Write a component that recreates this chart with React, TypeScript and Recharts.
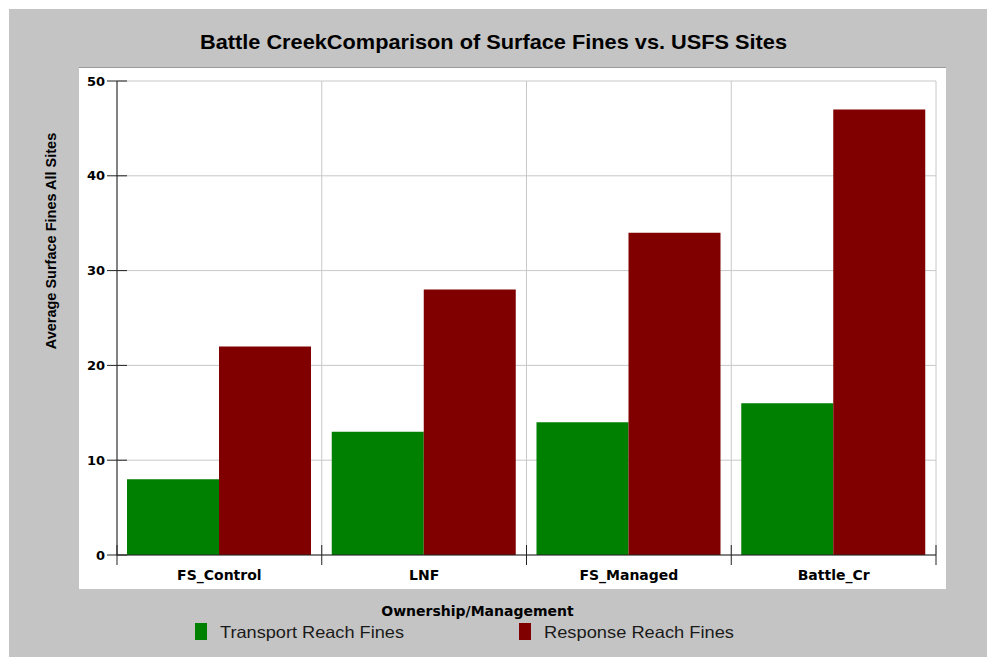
import { BarChart, Bar, XAxis, YAxis, CartesianGrid, Legend } from 'recharts';

const sites = ['FS_Control', 'LNF', 'FS_Managed', 'Battle_Cr'];
const transportFines = [8, 13, 14, 16];
const responseFines = [22, 28, 34, 47];
const yTicks = [0, 10, 20, 30, 40, 50];

const series = [
  { key: 'transport', name: 'Transport Reach Fines', color: '#008000' },
  { key: 'response', name: 'Response Reach Fines', color: '#800000' },
];

const data = sites.map((site, i) => ({
  site,
  transport: transportFines[i],
  response: responseFines[i],
}));

const W = 987;
const H = 657;
const verdana = '"DejaVu Sans", Verdana, sans-serif';
const arial = '"Liberation Sans", Arial, sans-serif';
const LABEL_GAP = 15;

function YTick(props: any) {
  const { x, y, payload } = props;
  return (
    <g>
      <line x1={x - 10} x2={x + 10} y1={y} y2={y} stroke="#222" />
      <text x={x - 12} y={y} dy="0.36em" textAnchor="end" fontFamily={verdana} fontWeight="bold" fontSize={13} fill="#000">
        {payload.value}
      </text>
    </g>
  );
}

// category label, plus the tick marks that sit on the category edges
function SiteTick(props: any) {
  const { x, y, payload, width, index, visibleTicksCount } = props;
  const half = width / visibleTicksCount / 2;
  const axisY = y - LABEL_GAP;
  const edges = index === visibleTicksCount - 1 ? [x - half, x + half] : [x - half];
  return (
    <g>
      {edges.map((ex) => (
        <line key={ex} x1={ex} x2={ex} y1={axisY - 10} y2={axisY + 10} stroke="#222" />
      ))}
      <text x={x} y={y} dy="0.72em" textAnchor="middle" fontFamily={verdana} fontWeight="bold" fontSize={14} fill="#000">
        {payload.value}
      </text>
    </g>
  );
}

function LegendContent() {
  const itemX = [195, 519];
  return (
    <svg width={W} height={30} style={{ display: 'block' }}>
      {series.map((s, i) => (
        <g key={s.key}>
          <rect x={itemX[i]} y={8} width={12} height={17} fill={s.color} />
          <text
            x={itemX[i] + 25}
            y={23}
            fontFamily={arial}
            fontSize={16.5}
            textLength={i === 0 ? 184 : 190}
            lengthAdjust="spacingAndGlyphs"
            fill="#1a1a1a"
          >
            {s.name}
          </text>
        </g>
      ))}
    </svg>
  );
}

export default function App() {
  return (
    <div style={{ position: 'absolute', left: 0, top: 0, width: W, height: H, background: '#fff' }}>
      <div style={{ position: 'absolute', left: 9, top: 9, right: 0, bottom: 0, background: '#c4c4c4' }} />
      <div
        style={{
          position: 'absolute',
          left: 79,
          top: 67,
          width: 867,
          height: 522,
          background: '#fff',
          borderTop: '1px solid #9a9a9a',
          boxSizing: 'border-box',
        }}
      />
      <svg width={W} height={60} style={{ position: 'absolute', left: 0, top: 0 }}>
        <text
          x={493.5}
          y={49}
          textAnchor="middle"
          fontFamily={arial}
          fontWeight="bold"
          fontSize={20.5}
          textLength={587}
          lengthAdjust="spacingAndGlyphs"
          fill="#000"
        >
          Battle CreekComparison of Surface Fines vs. USFS Sites
        </text>
      </svg>
      <div style={{ position: 'absolute', left: 0, top: 0 }}>
        <BarChart
          width={W}
          height={H}
          data={data}
          margin={{ top: 81, right: 51, bottom: 101, left: 116 }}
          barCategoryGap={10}
          barGap={0}
        >
          <CartesianGrid
            stroke="#c8c8c8"
            verticalCoordinatesGenerator={({ offset }: any) =>
              [0, 1, 2, 3, 4].map((i) => offset.left + (offset.width * i) / sites.length)
            }
          />
          <XAxis
            dataKey="site"
            height={1}
            axisLine={{ stroke: '#222' }}
            tickLine={false}
            tickSize={0}
            tickMargin={LABEL_GAP}
            interval={0}
            tick={<SiteTick />}
            label={{
              content: ({ viewBox }: any) => (
                <text
                  x={viewBox.x + viewBox.width / 2 - 49}
                  y={616}
                  textAnchor="middle"
                  fontFamily={verdana}
                  fontWeight="bold"
                  fontSize={14}
                  fill="#000"
                >
                  Ownership/Management
                </text>
              ),
            }}
          />
          <YAxis
            width={1}
            domain={[0, 50]}
            ticks={yTicks}
            interval={0}
            axisLine={{ stroke: '#222' }}
            tickLine={false}
            tickSize={0}
            tickMargin={0}
            tick={<YTick />}
            label={{
              content: () => (
                <text
                  x={56}
                  y={241}
                  transform="rotate(-90, 56, 241)"
                  textAnchor="middle"
                  fontFamily={arial}
                  fontWeight="bold"
                  fontSize={14.5}
                  fill="#000"
                >
                  Average Surface Fines All Sites
                </text>
              ),
            }}
          />
          <Legend
            layout="horizontal"
            verticalAlign="middle"
            content={<LegendContent />}
            wrapperStyle={{ position: 'absolute', left: 0, top: 615, width: W, height: 30 }}
          />
          {series.map((s) => (
            <Bar key={s.key} dataKey={s.key} name={s.name} fill={s.color} isAnimationActive={false} />
          ))}
        </BarChart>
      </div>
    </div>
  );
}
